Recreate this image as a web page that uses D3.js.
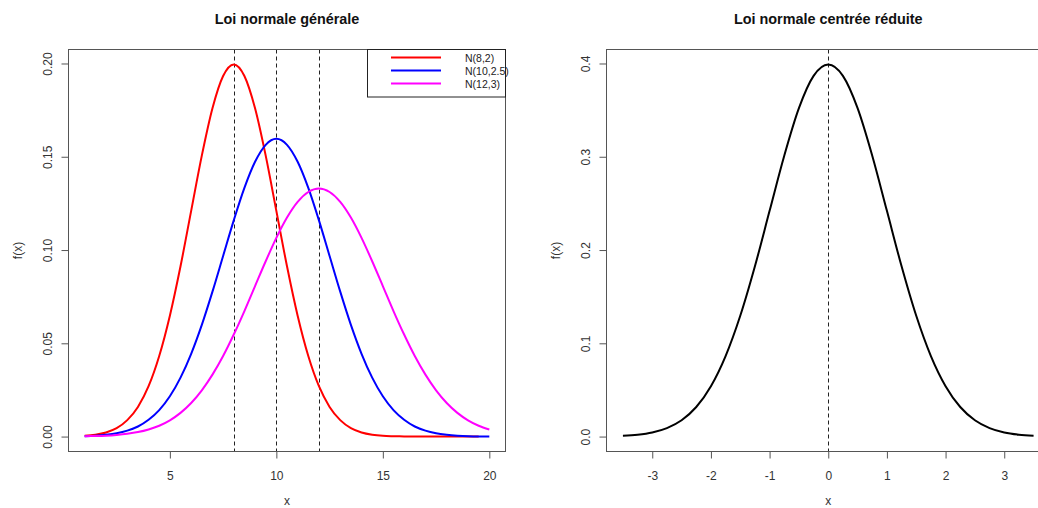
<!DOCTYPE html>
<html>
<head>
<meta charset="utf-8">
<script src="https://cdn.jsdelivr.net/npm/d3@7"></script>
<style>
    body { margin: 0; background: white; }
    text { font-family: "Liberation Sans", Arial, sans-serif; }
</style>
</head>
<body>
<script>
    // valeurs
    var xGeneral = [1, 1.5, 2, 2.5, 3, 3.5, 4, 4.5, 5, 5.5, 6, 6.5, 7, 7.5, 8, 8.5, 9, 9.5, 10, 10.5,
        11, 11.5, 12, 12.5, 13, 13.5, 14, 14.5, 15, 15.5, 16, 16.5, 17, 17.5, 18, 18.5, 19, 19.5, 20];
    var yN82 = [0.0004, 0.0010, 0.0022, 0.0045, 0.0088, 0.0159, 0.0270, 0.0432, 0.0648, 0.0913,
        0.1210, 0.1506, 0.1760, 0.1933, 0.1995, 0.1933, 0.1760, 0.1506, 0.1210, 0.0913,
        0.0648, 0.0432, 0.0270, 0.0159, 0.0088, 0.0045, 0.0022, 0.0010, 0.0004, 0.0002,
        0.0001, 0.0000, 0.0000, 0.0000, 0.0000, 0.0000, 0.0000, 0.0000];
    var yN1025 = [0.0002, 0.0005, 0.0010, 0.0018, 0.0032, 0.0054, 0.0090, 0.0142, 0.0216, 0.0316,
        0.0444, 0.0599, 0.0777, 0.0968, 0.1159, 0.1333, 0.1473, 0.1564, 0.1596, 0.1564,
        0.1473, 0.1333, 0.1159, 0.0968, 0.0777, 0.0599, 0.0444, 0.0316, 0.0216, 0.0142,
        0.0090, 0.0054, 0.0032, 0.0018, 0.0010, 0.0005, 0.0002, 0.0001, 0.0001];
    var yN123 = [0.0002, 0.0003, 0.0005, 0.0009, 0.0015, 0.0024, 0.0038, 0.0058, 0.0087, 0.0127,
        0.0180, 0.0248, 0.0332, 0.0432, 0.0547, 0.0673, 0.0807, 0.0940, 0.1065, 0.1174,
        0.1258, 0.1311, 0.1330, 0.1311, 0.1258, 0.1174, 0.1065, 0.0940, 0.0807, 0.0673,
        0.0547, 0.0432, 0.0332, 0.0248, 0.0180, 0.0127, 0.0087, 0.0058, 0.0038];
    var seriesNames = ["N(8,2)", "N(10,2.5)", "N(12,3)"];
    var seriesColors = ["#ff0000", "#0000ff", "#ff00ff"];
    var meansGeneral = [8, 10, 12];
    var xTicksGeneral = [5, 10, 15, 20];
    var yTicksGeneral = [0, 0.05, 0.10, 0.15, 0.20];
    var yLabelsGeneral = ["0.00", "0.05", "0.10", "0.15", "0.20"];

    var xReduite = [-3.5, -3.25, -3, -2.75, -2.5, -2.25, -2, -1.75, -1.5, -1.25, -1, -0.75, -0.5, -0.25, 0,
        0.25, 0.5, 0.75, 1, 1.25, 1.5, 1.75, 2, 2.25, 2.5, 2.75, 3, 3.25, 3.5];
    var yReduite = [0.0009, 0.0020, 0.0044, 0.0091, 0.0175, 0.0317, 0.0540, 0.0863, 0.1295, 0.1826,
        0.2420, 0.3011, 0.3521, 0.3867, 0.3989, 0.3867, 0.3521, 0.3011, 0.2420, 0.1826,
        0.1295, 0.0863, 0.0540, 0.0317, 0.0175, 0.0091, 0.0044, 0.0020, 0.0009];
    var xTicksReduite = [-3, -2, -1, 0, 1, 2, 3];
    var yTicksReduite = [0, 0.1, 0.2, 0.3, 0.4];
    var yLabelsReduite = ["0.0", "0.1", "0.2", "0.3", "0.4"];

    var width = 1038, height = 508;
    var plotTop = 49.5, plotBottom = 451.5;

    var svg = d3.select("body").append("svg")
        .attr("width", width)
        .attr("height", height);

    function panel(opts) {
        var x = d3.scaleLinear().domain(opts.xDomain).range([opts.left, opts.right]);
        var y = d3.scaleLinear().domain(opts.yDomain).range([plotBottom, plotTop]);
        var g = svg.append("g");

        // titre
        g.append("text")
            .attr("x", (opts.left + opts.right) / 2)
            .attr("y", 24)
            .attr("text-anchor", "middle")
            .attr("font-size", "14.4px")
            .attr("font-weight", "bold")
            .attr("fill", "#111")
            .text(opts.title);

        // axe x
        var xAxis = g.append("g")
            .attr("transform", "translate(0," + plotBottom + ")")
            .call(d3.axisBottom(x).tickValues(opts.xTicks).tickSize(7).tickSizeOuter(0)
                .tickFormat(function (d) { return d < 0 ? "-" + Math.abs(d) : d; }));
        xAxis.select(".domain").remove();
        xAxis.selectAll("line").attr("stroke", "#555");
        xAxis.selectAll("text")
            .attr("y", 0).attr("dy", 0)
            .attr("transform", "translate(0,28)")
            .attr("font-size", "12px")
            .attr("font-family", "Liberation Sans, Arial, sans-serif")
            .attr("fill", "#333");

        // axe y
        var yAxis = g.append("g")
            .attr("transform", "translate(" + opts.left + ",0)")
            .call(d3.axisLeft(y).tickValues(opts.yTicks).tickSize(7).tickSizeOuter(0)
                .tickFormat(function (d, i) { return opts.yLabels[i]; }));
        yAxis.select(".domain").remove();
        yAxis.selectAll("line").attr("stroke", "#555");
        yAxis.selectAll("text")
            .attr("x", 0).attr("dy", 0)
            .attr("text-anchor", "middle")
            .attr("transform", "translate(-17,0) rotate(-90)")
            .attr("font-size", "12px")
            .attr("font-family", "Liberation Sans, Arial, sans-serif")
            .attr("fill", "#333");

        // libellés
        g.append("text")
            .attr("transform", "translate(" + ((opts.left + opts.right) / 2) + ",505)")
            .attr("text-anchor", "middle")
            .attr("font-size", "12px")
            .attr("fill", "#333")
            .text("x");
        g.append("text")
            .attr("transform", "translate(" + (opts.left - 47) + "," + ((plotTop + plotBottom) / 2) + ") rotate(-90)")
            .attr("text-anchor", "middle")
            .attr("font-size", "12px")
            .attr("fill", "#333")
            .text("f(x)");

        // lignes verticales
        g.selectAll(".moy").data(opts.means).enter().append("line")
            .attr("class", "moy")
            .attr("x1", function (d) { return Math.round(x(d)) + 0.5; })
            .attr("x2", function (d) { return Math.round(x(d)) + 0.5; })
            .attr("y1", plotTop)
            .attr("y2", plotBottom)
            .attr("stroke", "#222")
            .attr("stroke-width", 1)
            .attr("stroke-dasharray", "4,3");

        // courbes
        var line = d3.line()
            .curve(d3.curveMonotoneX)
            .x(function (d) { return x(d[0]); })
            .y(function (d) { return y(d[1]); });
        opts.series.forEach(function (s) {
            var pts = s.values.map(function (v, i) { return [opts.xs[i], v]; });
            g.append("path")
                .attr("d", line(pts))
                .attr("fill", "none")
                .attr("stroke", s.color)
                .attr("stroke-width", 2)
                .attr("stroke-linejoin", "round");
        });

        // cadre
        g.append("rect")
            .attr("x", opts.left)
            .attr("y", plotTop)
            .attr("width", opts.right - opts.left)
            .attr("height", plotBottom - plotTop)
            .attr("fill", "none")
            .attr("stroke", "#555")
            .attr("stroke-width", 1);

        return g;
    }

    panel({
        title: "Loi normale générale",
        left: 68.5, right: 505.5,
        xDomain: [0.24, 20.76], yDomain: [-0.008, 0.2075],
        xTicks: xTicksGeneral, yTicks: yTicksGeneral, yLabels: yLabelsGeneral,
        means: meansGeneral,
        xs: xGeneral,
        series: [
            { values: yN82, color: seriesColors[0] },
            { values: yN1025, color: seriesColors[1] },
            { values: yN123, color: seriesColors[2] }
        ]
    });

    panel({
        title: "Loi normale centrée réduite",
        left: 606.5, right: 1050,
        xDomain: [-3.78, 3.78], yDomain: [-0.016, 0.415],
        xTicks: xTicksReduite, yTicks: yTicksReduite, yLabels: yLabelsReduite,
        means: [0],
        xs: xReduite,
        series: [{ values: yReduite, color: "#000000" }]
    });

    // légende
    var legend = svg.append("g");
    legend.append("rect")
        .attr("x", 367.5).attr("y", 49.5)
        .attr("width", 138).attr("height", 47.5)
        .attr("fill", "white")
        .attr("stroke", "#222");
    var items = legend.selectAll(".legends").data(seriesNames).enter().append("g")
        .classed("legends", true)
        .attr("transform", function (d, i) { return "translate(0," + (57.5 + i * 13) + ")"; });
    items.append("line")
        .attr("x1", 391).attr("x2", 441)
        .attr("stroke", function (d, i) { return seriesColors[i]; })
        .attr("stroke-width", 2);
    items.append("text")
        .attr("x", 465).attr("y", 4)
        .attr("font-size", "10.5px")
        .attr("fill", "#222")
        .text(function (d) { return d; });
</script>
</body>
</html>
